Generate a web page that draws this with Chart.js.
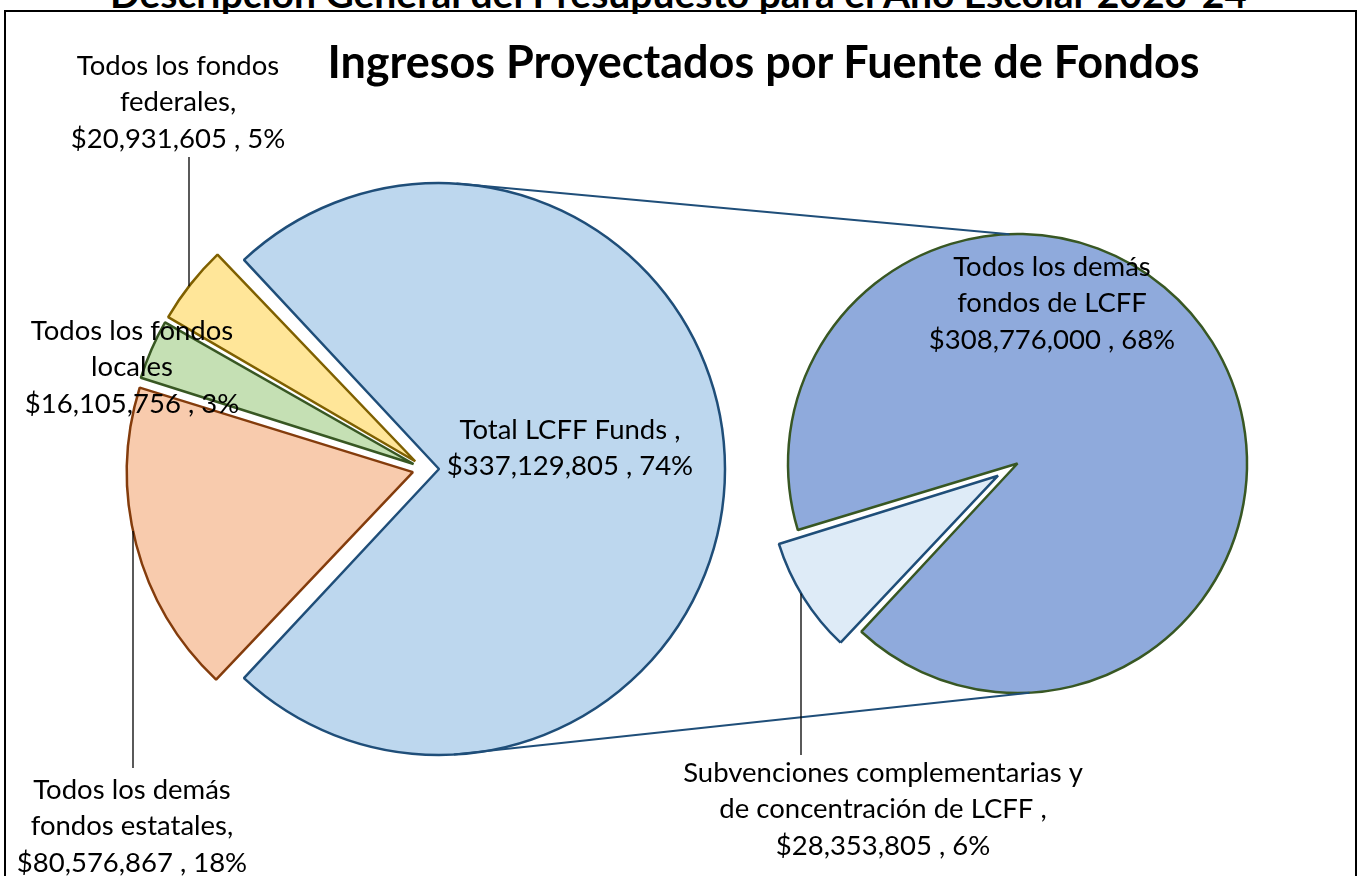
<!DOCTYPE html>
<html>
<head>
<meta charset="utf-8">
<title>Ingresos Proyectados por Fuente de Fondos</title>
<script src="https://cdn.jsdelivr.net/npm/chart.js@4/dist/chart.umd.min.js"></script>
<style>
  html, body { margin: 0; padding: 0; background: #fff; overflow: hidden; }
  #page { position: relative; width: 1357px; height: 876px; overflow: hidden; }
  #frame { position: absolute; left: 4px; top: 10px; width: 1353px; height: 880px;
           border: 2px solid #000; box-sizing: border-box; }
  #header { position: absolute; left: 0; width: 1357px; top: -26px; text-align: center;
            font: bold 39px Lato, sans-serif; line-height: 39px; color: #000; white-space: nowrap; }
  #title { position: absolute; left: 170px; width: 1187px; top: 37px; text-align: center;
           font: bold 45px Lato, sans-serif; line-height: 48px; color: #000; white-space: nowrap; }
  canvas { position: absolute; left: 0; top: 0; }
</style>
</head>
<body>
<div id="page">
  <div id="frame"></div>
  <div id="header">Descripción General del Presupuesto para el Año Escolar 2023-24</div>
  <canvas id="mainPie" width="1357" height="876"></canvas>
  <canvas id="lcffPie" width="1357" height="876"></canvas>
  <div id="title">Ingresos Proyectados por Fuente de Fondos</div>
</div>
<script>
// ---- datos (pie principal) ----
const mainCategories = ["Total LCFF Funds", "Todos los demás fondos estatales",
                        "Todos los fondos locales", "Todos los fondos federales"];
const mainValues = [337129805, 80576867, 16105756, 20931605];
const mainLabelLines = [["Total LCFF Funds ,"], ["Todos los demás", "fondos estatales,"],
                        ["Todos los fondos", "locales"], ["Todos los fondos", "federales,"]];

// ---- datos (pie secundario: desglose LCFF) ----
const lcffCategories = ["Todos los demás fondos de LCFF",
                        "Subvenciones complementarias y de concentración de LCFF"];
const lcffValues = [308776000, 28353805];
const lcffLabelLines = [["Todos los demás", "fondos de LCFF"],
                        ["Subvenciones complementarias y", "de concentración de LCFF ,"]];

// ---- estilos ----
const mainFill   = ["#BDD7EE", "#F8CBAD", "#C5E0B4", "#FFE699"];
const mainBorder = ["#1F4E79", "#843C0C", "#385723", "#7F6000"];
const mainOffset = [56, 50, 50, 50];
const lcffFill   = ["#8FAADC", "#DEEBF7"];
const lcffBorder = ["#385723", "#1F4E79"];
const lcffOffset = [0, 92];

const labelFont = "27.5px Lato, sans-serif";
const lineHeight = 36.5;
const mainLabelPos = [[570, 430], [132, 790], [132, 331], [178, 66]];
const lcffLabelPos = [[1052, 267], [883, 773]];
// guías verticales: slice index, x, y del extremo junto a la etiqueta
const mainLeaders = [{ i: 1, x: 133, y: 768 }, { i: 3, x: 189, y: 157 }];
const lcffLeaders = [{ i: 1, x: 801, y: 755 }];

const grandTotal = mainValues.reduce((a, b) => a + b, 0);

// redondeo por mayor residuo para que los % sumen lo mismo que el total
function roundedPercents(values, total, target) {
  const raw = values.map(v => v / total * 100);
  const out = raw.map(Math.floor);
  let left = target - out.reduce((a, b) => a + b, 0);
  raw.map((r, i) => [r - Math.floor(r), i]).sort((a, b) => b[0] - a[0])
     .forEach(([, i]) => { if (left > 0) { out[i]++; left--; } });
  return out;
}
const mainPct = roundedPercents(mainValues, grandTotal, 100);
const lcffPct = roundedPercents(lcffValues, grandTotal, mainPct[0]);

const money = v => "$" + v.toLocaleString("en-US");

// centro real del trozo (con desplazamiento) y radio dibujado
function arcGeom(el) {
  const mid = (el.startAngle + el.endAngle) / 2;
  const d = (el.options.offset || 0) / 4;
  return { cx: el.x + Math.cos(mid) * d, cy: el.y + Math.sin(mid) * d, r: el.baseR };
}

// mismo radio para todos los trozos aunque estén desplazados
const evenRadius = {
  id: "evenRadius",
  beforeDatasetsDraw(chart) {
    const meta = chart.getDatasetMeta(0);
    const R = meta.controller.outerRadius;
    meta.data.forEach(el => {
      const d = (el.options.offset || 0) / 4;
      const fix = 1 - Math.sin(Math.min(Math.PI, el.circumference));
      el.baseR = R;
      el.outerRadius = R - d * fix;
    });
  }
};

const sliceLabels = {
  id: "sliceLabels",
  afterDatasetsDraw(chart, args, opts) {
    const ctx = chart.ctx;
    const arcs = chart.getDatasetMeta(0).data;
    ctx.save();
    ctx.strokeStyle = "#000";
    ctx.lineWidth = 1.3;
    (opts.leaders || []).forEach(l => {
      const g = arcGeom(arcs[l.i]);
      const dy = Math.sqrt(Math.max(g.r * g.r - (l.x - g.cx) * (l.x - g.cx), 0));
      const y2 = l.y < g.cy ? g.cy - dy : g.cy + dy;
      ctx.beginPath();
      ctx.moveTo(l.x, l.y);
      ctx.lineTo(l.x, y2);
      ctx.stroke();
    });
    ctx.fillStyle = "#000";
    ctx.font = labelFont;
    ctx.textAlign = "center";
    ctx.textBaseline = "middle";
    opts.lines.forEach((lines, i) => {
      const all = lines.concat([money(opts.values[i]) + " , " + opts.pct[i] + "%"]);
      const [x, y] = opts.pos[i];
      all.forEach((t, k) => ctx.fillText(t, x, y + k * lineHeight));
    });
    ctx.restore();
  }
};

// líneas de conexión entre ambos pies
let mainChart = null;
const connectors = {
  id: "connectors",
  afterDatasetsDraw(chart) {
    if (!mainChart) return;
    const a = arcGeom(mainChart.getDatasetMeta(0).data[0]);
    const b = arcGeom(chart.getDatasetMeta(0).data[0]);
    const pt = (g, deg) => [g.cx + g.r * Math.cos(deg * Math.PI / 180),
                            g.cy + g.r * Math.sin(deg * Math.PI / 180)];
    const ctx = chart.ctx;
    ctx.save();
    ctx.strokeStyle = "#1F4E79";
    ctx.lineWidth = 2;
    [[-86.5, -92], [87, 87]].forEach(([da, db]) => {
      const p = pt(a, da), q = pt(b, db);
      ctx.beginPath();
      ctx.moveTo(p[0], p[1]);
      ctx.lineTo(q[0], q[1]);
      ctx.stroke();
    });
    ctx.restore();
  }
};

function pieOptions(padding, rotation, labelOpts) {
  return {
    responsive: false,
    animation: false,
    events: [],
    rotation: rotation,
    layout: { padding: padding },
    plugins: {
      legend: { display: false },
      tooltip: { enabled: false },
      title: { display: false },
      sliceLabels: labelOpts
    }
  };
}

// pie principal: centro (425,469), radio 286; LCFF centrado hacia la derecha
const mainRotation = 90 - mainValues[0] / grandTotal * 180;
mainChart = new Chart(document.getElementById("mainPie").getContext("2d"), {
  type: "pie",
  data: {
    labels: mainCategories,
    datasets: [{
      data: mainValues,
      backgroundColor: mainFill,
      borderColor: mainBorder,
      borderWidth: 2.5,
      offset: mainOffset,
      radius: 286
    }]
  },
  options: pieOptions({ left: 125, right: 632, top: 169, bottom: 107 }, mainRotation,
    { lines: mainLabelLines, values: mainValues, pct: mainPct, pos: mainLabelPos, leaders: mainLeaders }),
  plugins: [evenRadius, sliceLabels]
});

// pie secundario: centro (1017.5,463.5), radio 229.5; trozo pequeño hacia abajo-izquierda
const lcffTotal = lcffValues.reduce((a, b) => a + b, 0);
const lcffRotation = 148 + lcffValues[1] / lcffTotal * 180 + 90;
new Chart(document.getElementById("lcffPie").getContext("2d"), {
  type: "pie",
  data: {
    labels: lcffCategories,
    datasets: [{
      data: lcffValues,
      backgroundColor: lcffFill,
      borderColor: lcffBorder,
      borderWidth: 2.5,
      offset: lcffOffset,
      radius: 229.5
    }]
  },
  options: pieOptions({ left: 777.5, right: 99.5, top: 223.5, bottom: 172.5 }, lcffRotation,
    { lines: lcffLabelLines, values: lcffValues, pct: lcffPct, pos: lcffLabelPos, leaders: lcffLeaders }),
  plugins: [evenRadius, connectors, sliceLabels]
});
</script>
</body>
</html>
